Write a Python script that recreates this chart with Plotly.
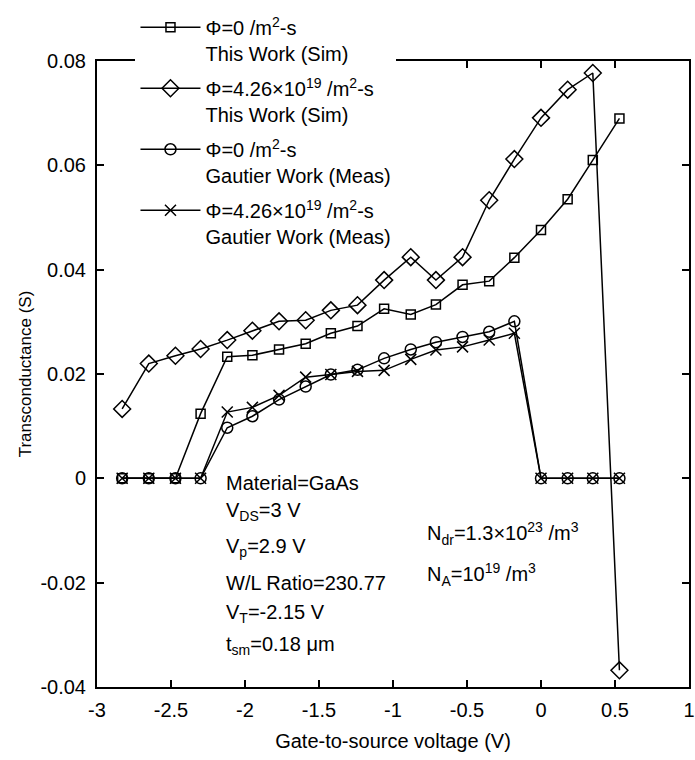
import plotly.graph_objects as go

vgs = [-2.83, -2.65, -2.47, -2.30, -2.12, -1.95, -1.77, -1.59, -1.42, -1.24,
       -1.06, -0.88, -0.71, -0.53, -0.35, -0.18, 0.00, 0.18, 0.35, 0.53]

sim_phi0 = [0.0, 0.0, 0.0, 0.0124, 0.0233, 0.0236, 0.0247, 0.0258, 0.0278, 0.0292,
            0.0325, 0.0314, 0.0333, 0.0371, 0.0378, 0.0423, 0.0476, 0.0535, 0.0610, 0.0690]
sim_phi1 = [0.0133, 0.0220, 0.0235, 0.0248, 0.0265, 0.0283, 0.0301, 0.0303, 0.0322, 0.0332,
            0.0380, 0.0424, 0.0380, 0.0424, 0.0533, 0.0612, 0.0691, 0.0745, 0.0777, -0.0368]
meas_phi0 = [0.0, 0.0, 0.0, 0.0, 0.0097, 0.0119, 0.0151, 0.0176, 0.0199, 0.0208,
             0.0230, 0.0247, 0.0261, 0.0271, 0.0281, 0.0301, 0.0, 0.0, 0.0, 0.0]
meas_phi1 = [0.0, 0.0, 0.0, 0.0, 0.0127, 0.0136, 0.0159, 0.0194, 0.0199, 0.0205,
             0.0207, 0.0228, 0.0246, 0.0252, 0.0265, 0.0278, 0.0, 0.0, 0.0, 0.0]

names = ["Φ=0 /m<sup>2</sup>-s<br>This Work (Sim)",
         "Φ=4.26×10<sup>19</sup> /m<sup>2</sup>-s<br>This Work (Sim)",
         "Φ=0 /m<sup>2</sup>-s<br>Gautier Work (Meas)",
         "Φ=4.26×10<sup>19</sup> /m<sup>2</sup>-s<br>Gautier Work (Meas)"]

x_ticks = [-3, -2.5, -2, -1.5, -1, -0.5, 0, 0.5, 1]
x_ticktext = ["-3", "-2.5", "-2", "-1.5", "-1", "-0.5", "0", "0.5", "1"]
y_ticks = [-0.04, -0.02, 0, 0.02, 0.04, 0.06, 0.08]
y_ticktext = ["-0.04", "-0.02", "0", "0.02", "0.04", "0.06", "0.08"]

FONT = "Arial, 'Liberation Sans', sans-serif"

fig = go.Figure()
series = [(sim_phi0, "square-open", 9), (sim_phi1, "diamond-open", 13),
          (meas_phi0, "circle-open", 11), (meas_phi1, "x-thin-open", 11)]
for i, ((ys, sym, sz), nm) in enumerate(zip(series, names)):
    fig.add_trace(go.Scatter(
        x=vgs, y=ys, name=nm, mode="lines+markers", legendgroup="g%d" % i,
        line=dict(color="black", width=1.5),
        marker=dict(symbol=sym, size=sz, color="black",
                    line=dict(color="black", width=1.5)),
    ))

fig.update_layout(
    width=695, height=760,
    margin=dict(l=97, r=6, t=61, b=73, autoexpand=False),
    paper_bgcolor="white", plot_bgcolor="white",
    font=dict(family=FONT, size=20, color="black"),
    showlegend=True,
    legend=dict(x=0.065, y=1.085, xanchor="left", yanchor="top",
                bgcolor="white", borderwidth=0, valign="top",
                font=dict(size=20), itemwidth=60, tracegroupgap=6),
)
fig.update_xaxes(range=[-3, 1], tickvals=x_ticks, ticktext=x_ticktext,
                 ticks="inside", ticklen=7, tickwidth=1.5, tickcolor="black",
                 showline=True, linecolor="black", linewidth=2, mirror="ticks",
                 showgrid=False, zeroline=False, ticklabeloverflow="allow",
                 ticklabelstandoff=4, automargin=False,
                 title=dict(text="Gate-to-source voltage (V)", font=dict(size=20), standoff=14),
                 tickfont=dict(size=20))
fig.update_yaxes(range=[-0.04, 0.08], tickvals=y_ticks, ticktext=y_ticktext,
                 ticks="inside", ticklen=7, tickwidth=1.5, tickcolor="black",
                 showline=True, linecolor="black", linewidth=2, mirror="ticks",
                 showgrid=False, zeroline=False, ticklabeloverflow="allow",
                 ticklabelstandoff=5, automargin=False,
                 title=dict(text="Transconductance (S)", font=dict(size=17), standoff=4),
                 tickfont=dict(size=20))

left_notes = [("Material=GaAs", -0.0008),
              ("V<sub>DS</sub>=3 V", -0.0063),
              ("V<sub>p</sub>=2.9 V", -0.0133),
              ("W/L Ratio=230.77", -0.0201),
              ("V<sub>T</sub>=-2.15 V", -0.0259),
              ("t<sub>sm</sub>=0.18 μm", -0.0320)]
for txt, yv in left_notes:
    fig.add_annotation(x=-2.145, y=yv, text=txt, showarrow=False,
                       xanchor="left", yanchor="middle", font=dict(size=20))
right_notes = [("N<sub>dr</sub>=1.3×10<sup>23</sup> /m<sup>3</sup>", -0.0105),
               ("N<sub>A</sub>=10<sup>19</sup> /m<sup>3</sup>", -0.0185)]
for txt, yv in right_notes:
    fig.add_annotation(x=-0.787, y=yv, text=txt, showarrow=False,
                       xanchor="left", yanchor="middle", font=dict(size=20))

fig.write_html("out.html")
